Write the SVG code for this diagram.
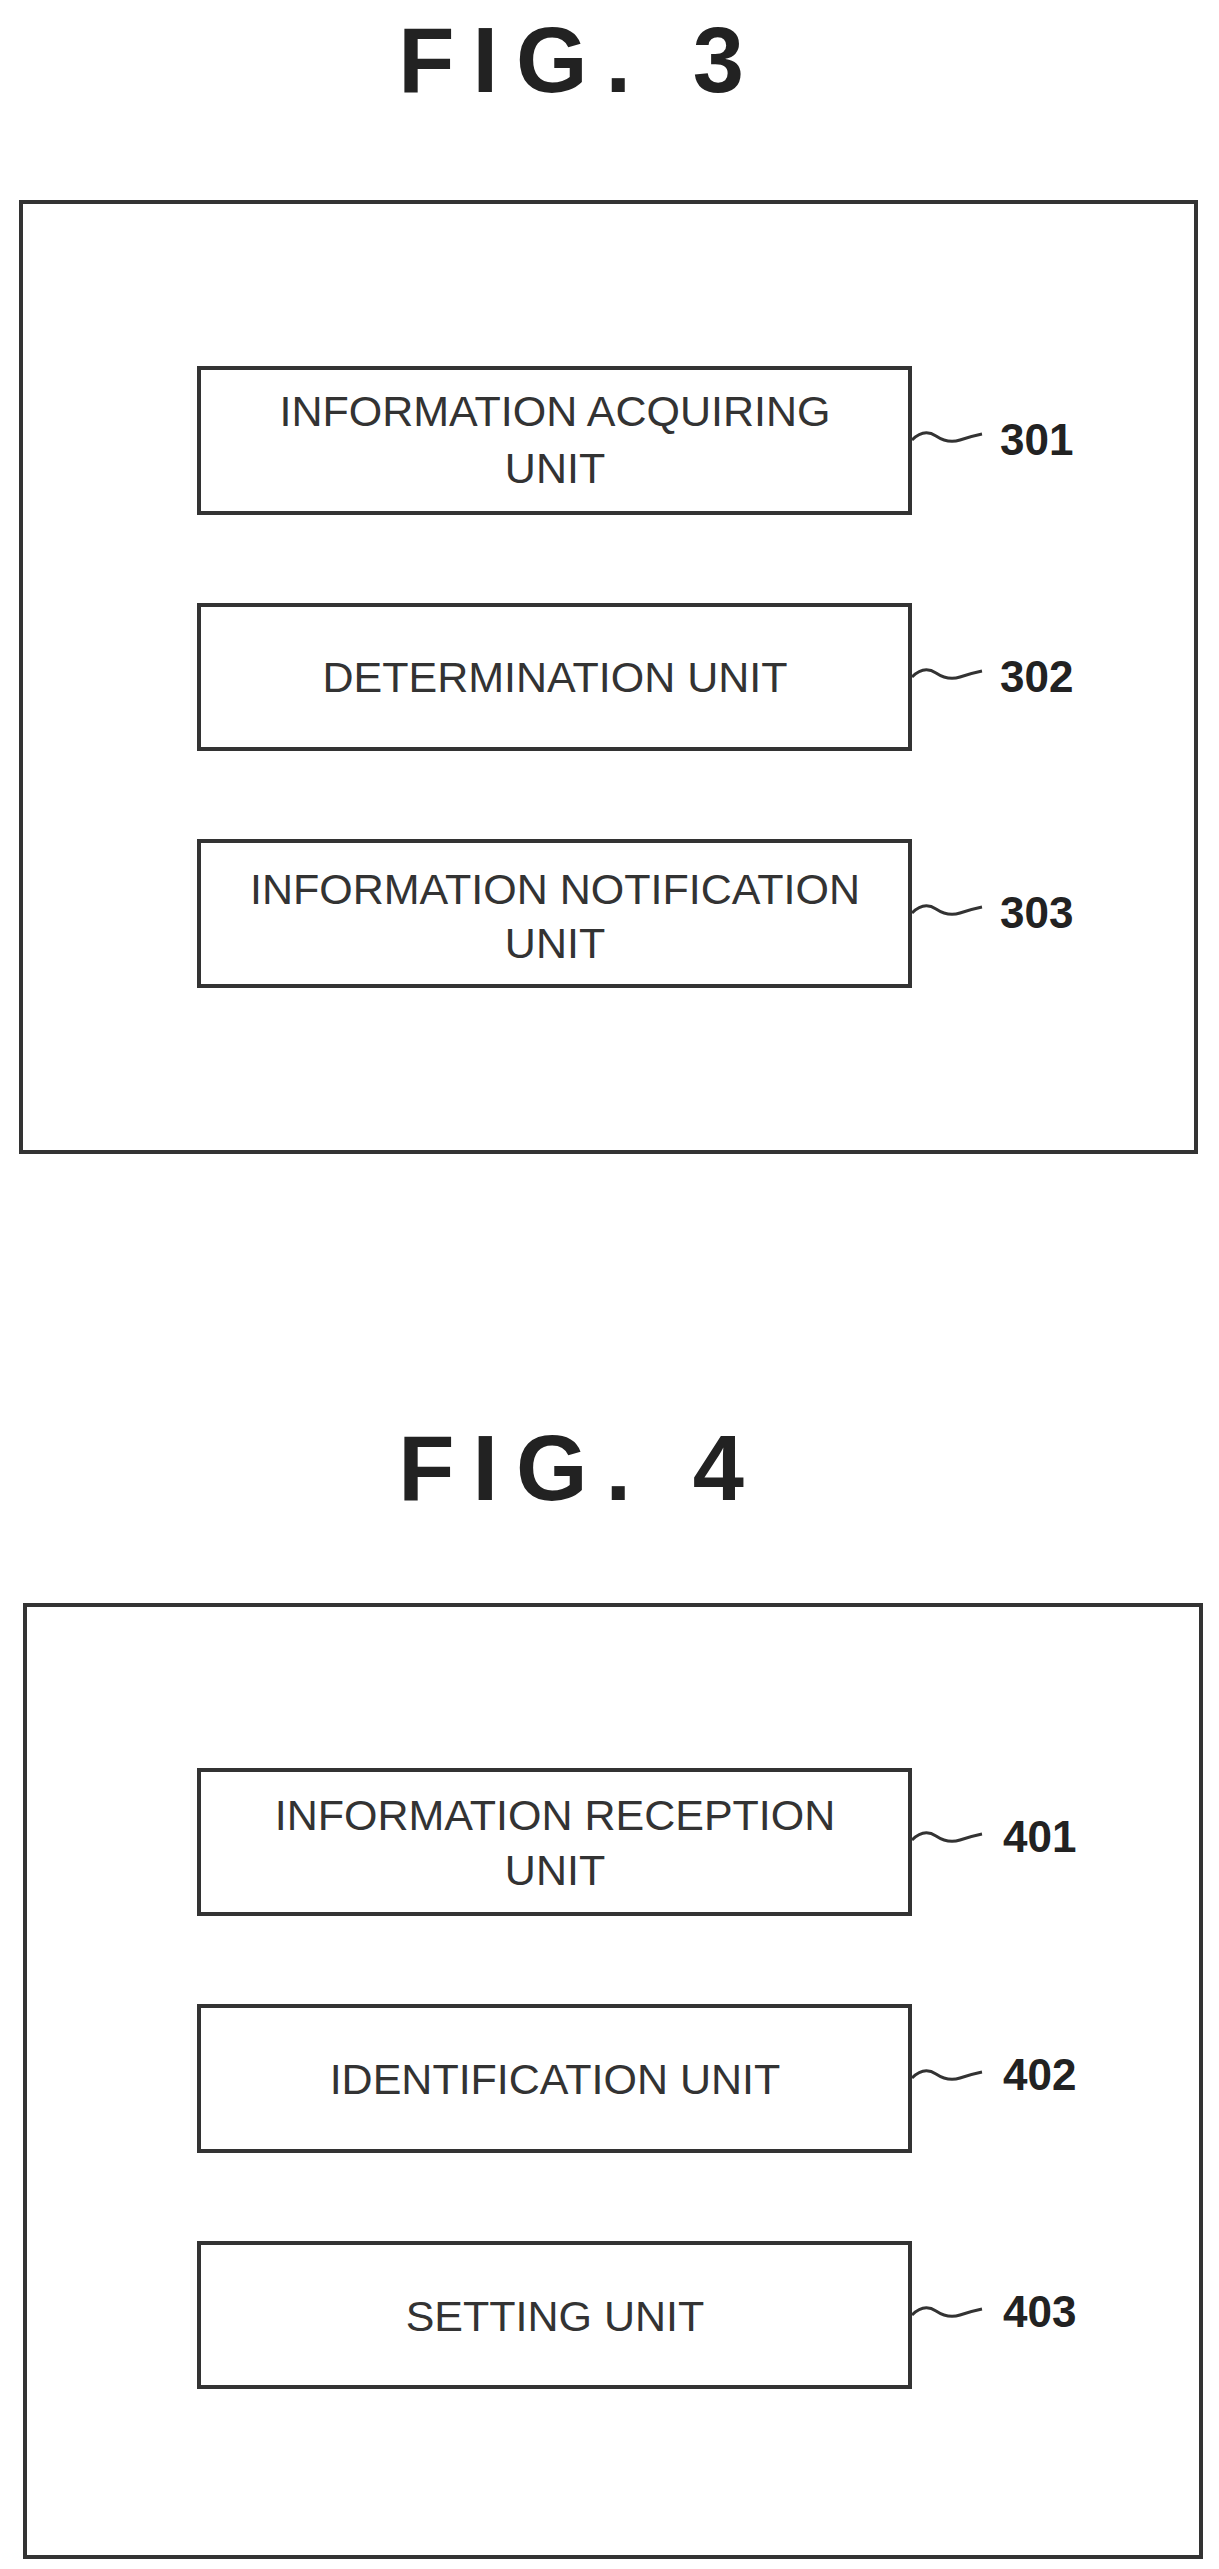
<svg xmlns="http://www.w3.org/2000/svg" width="1219" height="2569" viewBox="0 0 1219 2569">
<style>
.b{fill:none;stroke:#333;stroke-width:4}
.t{font-family:"Liberation Sans",Arial,sans-serif;font-size:43px;fill:#333;text-anchor:middle}
.n{font-family:"Liberation Sans",Arial,sans-serif;font-size:44px;font-weight:bold;fill:#222}
.h{font-family:"Liberation Sans",Arial,sans-serif;font-size:92px;font-weight:bold;fill:#222;text-anchor:middle;letter-spacing:18px}
.c{fill:none;stroke:#333;stroke-width:3}
</style>
<rect width="1219" height="2569" fill="#fff"/>
<text class="h" x="580" y="92">FIG. 3</text>
<text class="h" x="580" y="1500">FIG. 4</text>
<g id="fig3"><rect class="b" x="21" y="202" width="1175" height="950"/></g>
<g id="n301"><rect class="b" x="199" y="368" width="711" height="145"/><text class="t" x="555" y="426">INFORMATION ACQUIRING</text><text class="t" x="555" y="483">UNIT</text><text class="n" x="1000" y="455">301</text></g>
<g id="n302"><rect class="b" x="199" y="605" width="711" height="144"/><text class="t" x="555" y="692">DETERMINATION UNIT</text><text class="n" x="1000" y="692">302</text></g>
<g id="n303"><rect class="b" x="199" y="841" width="711" height="145"/><text class="t" x="555" y="904">INFORMATION NOTIFICATION</text><text class="t" x="555" y="958">UNIT</text><text class="n" x="1000" y="928">303</text></g>
<g id="fig4"><rect class="b" x="25" y="1605" width="1176" height="952"/></g>
<g id="n401"><rect class="b" x="199" y="1770" width="711" height="144"/><text class="t" x="555" y="1830">INFORMATION RECEPTION</text><text class="t" x="555" y="1885">UNIT</text><text class="n" x="1003" y="1852">401</text></g>
<g id="n402"><rect class="b" x="199" y="2006" width="711" height="145"/><text class="t" x="555" y="2094">IDENTIFICATION UNIT</text><text class="n" x="1003" y="2090">402</text></g>
<g id="n403"><rect class="b" x="199" y="2243" width="711" height="144"/><text class="t" x="555" y="2331">SETTING UNIT</text><text class="n" x="1003" y="2327">403</text></g>
<g id="connectors">
<path class="c" d="M912 440 q12 -12 24 -4 t24 4 t22 -6"/>
<path class="c" d="M912 677 q12 -12 24 -4 t24 4 t22 -6"/>
<path class="c" d="M912 913 q12 -12 24 -4 t24 4 t22 -6"/>
<path class="c" d="M912 1840 q12 -12 24 -4 t24 4 t22 -6"/>
<path class="c" d="M912 2078 q12 -12 24 -4 t24 4 t22 -6"/>
<path class="c" d="M912 2315 q12 -12 24 -4 t24 4 t22 -6"/>
</g>
</svg>
